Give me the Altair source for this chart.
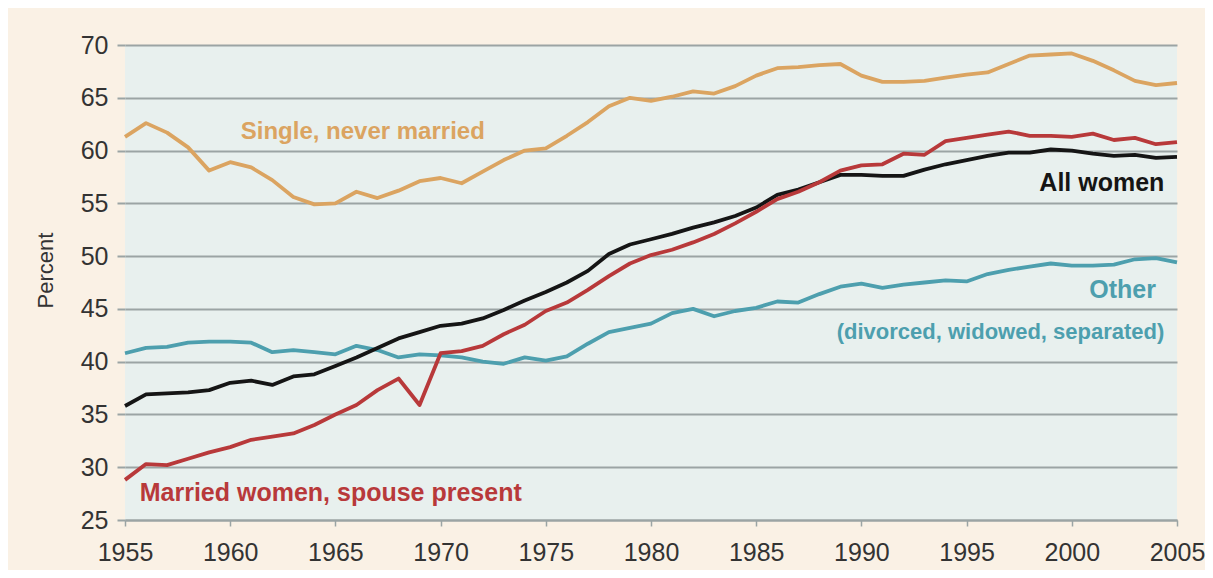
import altair as alt
import pandas as pd

years = list(range(1955, 2006))

single = [61.3, 62.6, 61.7, 60.3, 58.1, 58.9, 58.4, 57.2, 55.6, 54.9,
          55.0, 56.1, 55.5, 56.2, 57.1, 57.4, 56.9, 58.0, 59.1, 60.0,
          60.2, 61.4, 62.7, 64.2, 65.0, 64.7, 65.1, 65.6, 65.4, 66.1,
          67.1, 67.8, 67.9, 68.1, 68.2, 67.1, 66.5, 66.5, 66.6, 66.9,
          67.2, 67.4, 68.2, 69.0, 69.1, 69.2, 68.5, 67.6, 66.6, 66.2, 66.4]

all_women = [35.8, 36.9, 37.0, 37.1, 37.3, 38.0, 38.2, 37.8, 38.6, 38.8,
             39.6, 40.4, 41.3, 42.2, 42.8, 43.4, 43.6, 44.1, 44.9, 45.8,
             46.6, 47.5, 48.6, 50.2, 51.1, 51.6, 52.1, 52.7, 53.2, 53.8,
             54.6, 55.8, 56.3, 57.0, 57.7, 57.7, 57.6, 57.6, 58.2, 58.7,
             59.1, 59.5, 59.8, 59.8, 60.1, 60.0, 59.7, 59.5, 59.6, 59.3, 59.4]

married = [28.8, 30.3, 30.2, 30.8, 31.4, 31.9, 32.6, 32.9, 33.2, 34.0,
           35.0, 35.9, 37.3, 38.4, 35.9, 40.8, 41.0, 41.5, 42.6, 43.5,
           44.8, 45.6, 46.8, 48.1, 49.3, 50.1, 50.6, 51.3, 52.1, 53.1,
           54.2, 55.4, 56.1, 57.0, 58.1, 58.6, 58.7, 59.7, 59.6, 60.9,
           61.2, 61.5, 61.8, 61.4, 61.4, 61.3, 61.6, 61.0, 61.2, 60.6, 60.8]

other = [40.8, 41.3, 41.4, 41.8, 41.9, 41.9, 41.8, 40.9, 41.1, 40.9,
         40.7, 41.5, 41.1, 40.4, 40.7, 40.6, 40.4, 40.0, 39.8, 40.4,
         40.1, 40.5, 41.7, 42.8, 43.2, 43.6, 44.6, 45.0, 44.3, 44.8,
         45.1, 45.7, 45.6, 46.4, 47.1, 47.4, 47.0, 47.3, 47.5, 47.7,
         47.6, 48.3, 48.7, 49.0, 49.3, 49.1, 49.1, 49.2, 49.7, 49.8, 49.4]

series_names = ["Other", "Single", "All women", "Married"]
series_colors = ["#4d9fae", "#dba461", "#151515", "#b8393a"]

x_ticks = [1955, 1960, 1965, 1970, 1975, 1980, 1985, 1990, 1995, 2000, 2005]
y_ticks = [25, 30, 35, 40, 45, 50, 55, 60, 65, 70]

# Labels (text, x year, y value, colour, size, align)
left_labels_text = ["Single, never married", "Married women, spouse present"]
left_labels_x = [1960.5, 1955.7]
left_labels_y = [61.8, 27.6]
left_labels_color = ["#dba461", "#b8393a"]
left_labels_size = [24, 25]

right_labels_text = ["All women", "Other", "(divorced, widowed, separated)"]
right_labels_x = [2004.4, 2004.0, 2004.4]
right_labels_y = [56.9, 46.8, 42.8]
right_labels_color = ["#151515", "#4d9fae", "#4d9fae"]
right_labels_size = [25, 25, 22]

rows = []
for name, vals in zip(series_names, [other, single, all_women, married]):
    for yr, v in zip(years, vals):
        rows.append({"year": yr, "value": v, "series": name,
                     "ord": series_names.index(name)})
df = pd.DataFrame(rows)

left_df = pd.DataFrame({"x": left_labels_x, "y": left_labels_y, "text": left_labels_text,
                        "color": left_labels_color, "size": left_labels_size})
right_df = pd.DataFrame({"x": right_labels_x, "y": right_labels_y, "text": right_labels_text,
                         "color": right_labels_color, "size": right_labels_size})

grid_col = "#9ba4a4"
font = "Liberation Sans"

xscale = alt.Scale(domain=[1955, 2005], nice=False, zero=False)
yscale = alt.Scale(domain=[25, 70], nice=False, zero=False)

lines = alt.Chart(df).mark_line(strokeWidth=3.8, strokeJoin="round").encode(
    x=alt.X("year:Q", scale=xscale,
            axis=alt.Axis(values=x_ticks, format="d", title=None, grid=False,
                          domain=True, domainColor=grid_col, domainWidth=2,
                          tickColor=grid_col, tickSize=6, tickWidth=1.5,
                          labelFontSize=25, labelFont=font, labelColor="#333333",
                          labelPadding=14, labelFlush=False, labelOverlap=False)),
    y=alt.Y("value:Q", scale=yscale,
            axis=alt.Axis(values=y_ticks, title="Percent", grid=True,
                          gridColor=grid_col, gridWidth=2, domain=False,
                          tickColor=grid_col, tickSize=8, tickWidth=2,
                          labelFontSize=25, labelFont=font, labelColor="#333333",
                          labelPadding=9,
                          titleFont=font, titleFontSize=22, titleFontWeight="normal",
                          titleColor="#333333", titleX=-80, titleY=225,
                          titleAngle=270, titleAlign="center", titleBaseline="middle")),
    color=alt.Color("series:N", scale=alt.Scale(domain=series_names, range=series_colors),
                    legend=None),
    order=alt.Order("ord:Q"),
    detail="series:N",
)

left_text = alt.Chart(left_df).mark_text(align="left", baseline="middle",
                                         fontWeight="bold", font=font).encode(
    x=alt.X("x:Q", scale=xscale),
    y=alt.Y("y:Q", scale=yscale),
    text="text:N",
    color=alt.Color("color:N", scale=None),
    size=alt.Size("size:Q", scale=None),
)

right_text = alt.Chart(right_df).mark_text(align="right", baseline="middle",
                                           fontWeight="bold", font=font).encode(
    x=alt.X("x:Q", scale=xscale),
    y=alt.Y("y:Q", scale=yscale),
    text="text:N",
    color=alt.Color("color:N", scale=None),
    size=alt.Size("size:Q", scale=None),
)

chart = alt.layer(lines, left_text, right_text).properties(
    width=1052, height=475,
    autosize=alt.AutoSizeParams(type="none"),
    padding={"left": 117, "top": 37, "right": 28, "bottom": 50},
    background="#faf1e5",
).configure_view(fill="#e8f0ee", stroke=None)

chart.save("out.html", embed_options={"renderer": "svg", "actions": False})
